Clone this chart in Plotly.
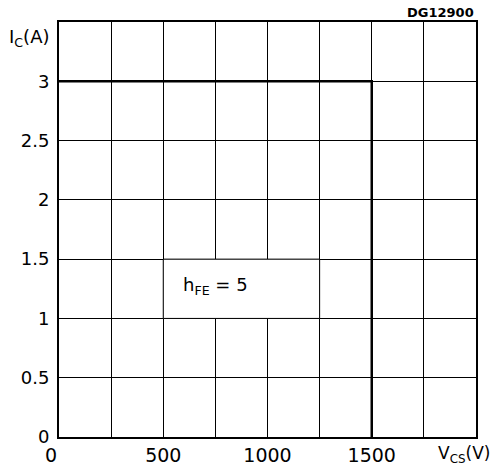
import plotly.graph_objects as go

# data
boundary_v = [0, 1500, 1500]
boundary_i = [3, 3, 0]
x_grid_vals = [0, 250, 500, 750, 1000, 1250, 1500, 1750, 2000]
x_tick_text = ["0\u2007\u2009", "", "500", "", "1000", "", "1500", "", ""]
y_grid_vals = [0, 0.5, 1, 1.5, 2, 2.5, 3, 3.5]
y_tick_text = ["0", "0.5", "1", "1.5", "2", "2.5", "3", ""]
label_box_x = [500, 1250]
label_box_y = [1, 1.5]

FONT = "DejaVu Sans"

fig = go.Figure()
fig.add_trace(go.Scatter(x=boundary_v, y=boundary_i, mode="lines",
                         line=dict(color="black", width=2.5), hoverinfo="skip",
                         showlegend=False))

fig.add_shape(type="rect", xref="x", yref="y",
              x0=label_box_x[0], x1=label_box_x[1], y0=label_box_y[0], y1=label_box_y[1],
              fillcolor="white", line=dict(color="black", width=1), layer="between")

fig.add_annotation(x=585, y=1.27, xref="x", yref="y", text="h<sub>FE</sub> = 5",
                   showarrow=False, xanchor="left", yanchor="middle",
                   font=dict(family=FONT, size=18, color="black"))
fig.add_annotation(x=0, y=1, xref="paper", yref="paper", text="I<sub>C</sub>(A)",
                   showarrow=False, xanchor="right", yanchor="top", xshift=-8, yshift=-2,
                   font=dict(family=FONT, size=18, color="black"))
fig.add_annotation(x=1, y=0, xref="paper", yref="paper", text="V<sub>CS</sub>(V)",
                   showarrow=False, xanchor="right", yanchor="top", xshift=16, yshift=-4,
                   font=dict(family=FONT, size=17, color="black"))
fig.add_annotation(x=1, y=1, xref="paper", yref="paper", text="<b>DG12900</b>",
                   showarrow=False, xanchor="right", yanchor="bottom", yshift=0,
                   font=dict(family=FONT, size=13, color="black"))

fig.update_xaxes(range=[0, 2000], tickmode="array", tickvals=x_grid_vals, ticktext=x_tick_text,
                 showgrid=True, gridcolor="black", gridwidth=1, zeroline=False,
                 showline=True, linecolor="black", linewidth=2, mirror=True,
                 ticks="", tickfont=dict(family=FONT, size=19, color="black"),
                 automargin=False, fixedrange=True)
fig.update_yaxes(range=[0, 3.5], tickmode="array", tickvals=y_grid_vals, ticktext=y_tick_text,
                 showgrid=True, gridcolor="black", gridwidth=1, zeroline=False,
                 showline=True, linecolor="black", linewidth=2, mirror=True,
                 ticks="", tickfont=dict(family=FONT, size=18, color="black"),
                 ticklabelstandoff=4, automargin=False, fixedrange=True)

fig.update_layout(width=497, height=472, margin=dict(l=59, r=21, t=22, b=35, autoexpand=False),
                  plot_bgcolor="white", paper_bgcolor="white", showlegend=False)

fig.write_html("out.html", config={"displayModeBar": False},
               post_script="document.body.style.margin='0';document.body.style.padding='0';")
